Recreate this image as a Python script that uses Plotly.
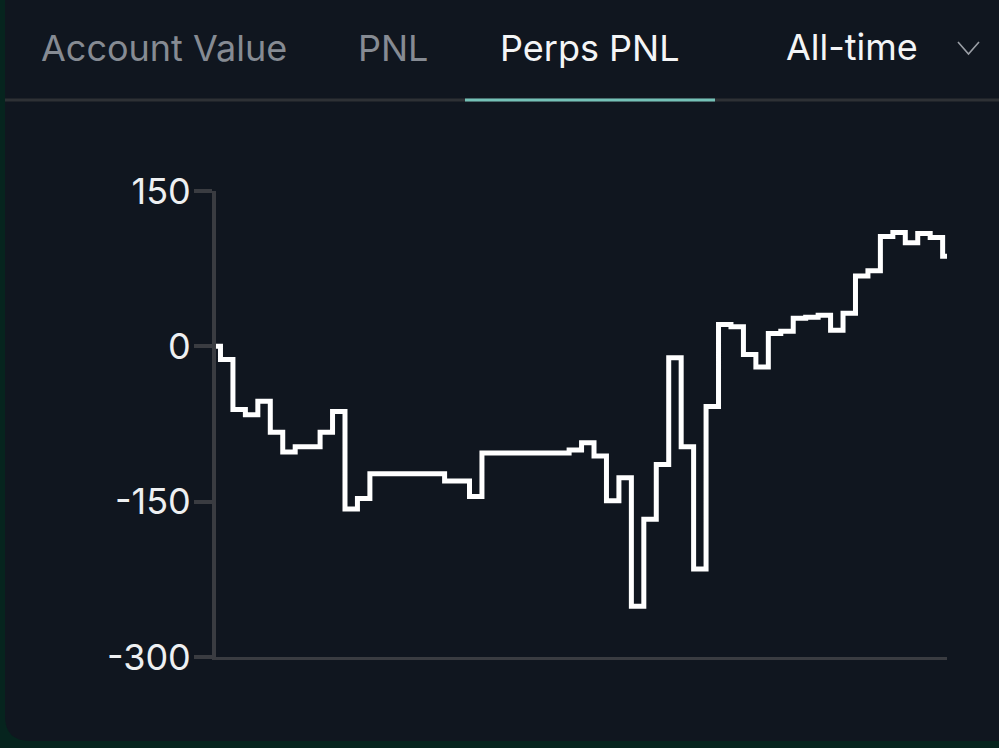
import plotly.graph_objects as go

# ---------------- data ----------------
# sampling instants (days since account start; regular daily samples + first/last partial)
step_time = [0.0] + [0.36 + k for k in range(59)] + [58.71]

pnl = [0, -12.6, -61, -66, -53, -83, -102, -97, -97, -83, -63,
       -157, -147, -123, -123, -123, -123, -123, -123, -130, -130,
       -145, -103, -103, -103, -103, -103, -103, -103, -100, -93,
       -106, -149, -127, -251, -167, -114, -11, -97, -215, -58,
       21, 19, -8, -20, 12.5, 14.5, 27, 28, 30, 15.5,
       32, 68, 73, 106, 110, 100, 109, 105, 87, 87]

y_ticks = [-300, -150, 0, 150]
y_tick_text = ["-300", "-150", "0", "150"]
tab_labels = ["Account Value", "PNL", "Perps PNL"]
active_tab = "Perps PNL"
period_label = "All-time"

# ---------------- layout geometry (pixels) ----------------
FW, FH = 999, 748
L, R, T, B = 216, 947, 191, 657
PW, PH = R - L, B - T

def px(x):
    return (x - L) / PW

def py(y):
    return (B - y) / PH

BG_CARD = "#10161f"
BG_OUT = "#06241e"
AXIS = "#3a3c41"
FONT = "Inter, 'Noto Sans', sans-serif"

fig = go.Figure()
fig.add_trace(go.Scatter(
    x=step_time, y=pnl, mode="lines",
    line=dict(shape="hv", color="#ffffff", width=5),
    hoverinfo="skip", showlegend=False,
))

shapes = []
# card with rounded bottom-left corner
rad = 25
card_path = (f"M {px(5)} {py(-20)} L {px(5)} {py(741 - rad)} "
             f"Q {px(5)} {py(741)} {px(5 + rad)} {py(741)} "
             f"L {px(1020)} {py(741)} L {px(1020)} {py(-20)} Z")
shapes.append(dict(type="path", path=card_path, xref="paper", yref="paper",
                   fillcolor=BG_CARD, line=dict(width=0), layer="below"))
# tab underline
shapes.append(dict(type="line", xref="paper", yref="paper",
                   x0=px(5), x1=px(1000), y0=py(100), y1=py(100),
                   line=dict(color="#2e3135", width=3)))
shapes.append(dict(type="line", xref="paper", yref="paper",
                   x0=px(465), x1=px(715), y0=py(100), y1=py(100),
                   line=dict(color="#74c1b7", width=3)))
# dropdown chevron
shapes.append(dict(type="path", xref="paper", yref="paper",
                   path=f"M {px(958)} {py(42)} L {px(968.5)} {py(54)} L {px(979)} {py(42)}",
                   line=dict(color="#9a9ea5", width=1.6)))

annotations = []
tab_centers = [164, 393, 590]
for lab, cx in zip(tab_labels, tab_centers):
    annotations.append(dict(
        text=lab, xref="paper", yref="paper", x=px(cx), y=py(48),
        xanchor="center", yanchor="middle", showarrow=False,
        font=dict(family=FONT, size=36,
                  color="#f4f5f6" if lab == active_tab else "#868b93"),
    ))
annotations.append(dict(
    text=period_label, xref="paper", yref="paper", x=px(852), y=py(47),
    xanchor="center", yanchor="middle", showarrow=False,
    font=dict(family=FONT, size=36, color="#f4f5f6"),
))

fig.update_layout(
    width=FW, height=FH,
    margin=dict(l=L, r=FW - R, t=T, b=FH - B, pad=0),
    paper_bgcolor=BG_OUT, plot_bgcolor="rgba(0,0,0,0)",
    shapes=shapes, annotations=annotations,
    xaxis=dict(range=[0, 58.71], showline=True, linecolor=AXIS, linewidth=3,
               showticklabels=False, ticks="", showgrid=False, zeroline=False,
               fixedrange=True),
    yaxis=dict(range=[-300, 150], tickvals=y_ticks, ticktext=y_tick_text,
               ticks="outside",
               ticklen=18, tickwidth=4, tickcolor=AXIS,
               showline=True, linecolor=AXIS, linewidth=4,
               showgrid=False, zeroline=False, ticklabelstandoff=-4,
               tickfont=dict(family=FONT, size=36, color="#eef0f2"),
               fixedrange=True),
    font=dict(family=FONT),
)

fig.write_html(
    "out.html",
    config={"displayModeBar": False},
    post_script="document.body.style.margin='0';document.body.style.overflow='hidden';"
                "document.body.style.background='#06241e';",
)
